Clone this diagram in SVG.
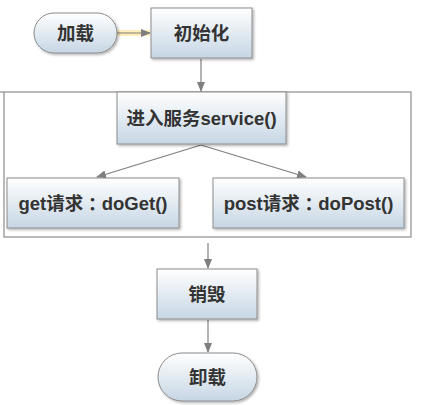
<svg xmlns="http://www.w3.org/2000/svg" width="423" height="405" viewBox="0 0 423 405">
<style>
.box{fill:url(#g);stroke:#8c8c8c;stroke-width:1;filter:url(#sh)}
.t{font-family:"Liberation Sans","Noto Sans CJK SC",sans-serif;font-weight:bold;font-size:18.5px;fill:#333;text-anchor:middle;dominant-baseline:central}
.col{font-family:"Noto Sans CJK JP",sans-serif}
.c{stroke:#7f7f7f;stroke-width:1.2;fill:none;marker-end:url(#a)}
</style>
<defs>
<linearGradient id="g" x1="0" y1="0" x2="0" y2="1"><stop offset="0" stop-color="#ffffff"/><stop offset="1" stop-color="#c6d6e4"/></linearGradient>
<filter id="sh" x="-10%" y="-10%" width="130%" height="140%"><feDropShadow dx="1.5" dy="1.5" stdDeviation="1" flood-color="#000" flood-opacity="0.3"/></filter>
<marker id="a" markerWidth="10" markerHeight="10" refX="9" refY="5" orient="auto" markerUnits="userSpaceOnUse"><path d="M0,1 L10,5 L0,9 Z" fill="#7f7f7f"/></marker>
</defs>
<rect width="423" height="405" fill="#fff"/>
<g id="container"><rect x="4" y="92" width="407" height="145" fill="none" stroke="#8c8c8c" stroke-width="1.2"/><line x1="0" y1="92" x2="4" y2="92" stroke="#8c8c8c" stroke-width="1.2"/></g>
<g id="connectors">
<line x1="117" y1="33" x2="150" y2="33" stroke="#ffe9a8" stroke-width="6" opacity="0.8"/>
<line class="c" x1="117" y1="33" x2="150" y2="33"/>
<line class="c" x1="201" y1="59" x2="201" y2="91"/>
<line class="c" x1="201" y1="145" x2="97" y2="177"/>
<line class="c" x1="201" y1="145" x2="306" y2="177"/>
<line class="c" x1="208" y1="243" x2="208" y2="268"/>
<line class="c" x1="208" y1="320" x2="208" y2="352"/>
</g>
<g id="load"><rect class="box" x="34" y="13" width="83" height="40" rx="20"/><text class="t" x="75.5" y="33">加载</text></g>
<g id="init"><rect class="box" x="151" y="8" width="101" height="50"/><text class="t" x="201.5" y="33">初始化</text></g>
<g id="service"><rect class="box" x="117" y="92" width="169" height="52"/><text class="t" x="201.5" y="118">进入服务service()</text></g>
<g id="get"><rect class="box" x="7" y="178" width="172" height="50"/><text class="t" x="93" y="203">get请求<tspan class="col">：</tspan>doGet()</text></g>
<g id="post"><rect class="box" x="213" y="178" width="191" height="50"/><text class="t" x="308.5" y="203">post请求<tspan class="col">：</tspan>doPost()</text></g>
<g id="destroy"><rect class="box" x="157" y="269" width="100" height="50"/><text class="t" x="207" y="294">销毁</text></g>
<g id="unload"><rect class="box" x="158" y="353" width="99" height="48" rx="24"/><text class="t" x="207.5" y="377">卸载</text></g>
</svg>
